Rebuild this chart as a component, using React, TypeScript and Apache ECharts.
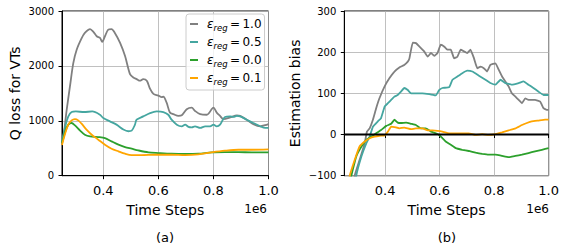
import React, { useEffect, useRef } from "react";
import * as echarts from "echarts";

// x in units of 1e6 time steps
const epsLabels = ["1.0", "0.5", "0.0", "0.1"];
const colors = ["#808080", "#45a6a0", "#2ca02c", "#ffa500"];
const xTicks = [0.4, 0.6, 0.8, 1.0];

// (a) Q loss for VTs
const qLoss10: [number, number][] = [
  [0.25, 620], [0.255, 700], [0.267, 1200], [0.279, 1630], [0.291, 2050], [0.303, 2290], [0.321, 2500],
  [0.333, 2600], [0.352, 2670], [0.364, 2620], [0.376, 2540], [0.388, 2510], [0.396, 2440], [0.406, 2540],
  [0.418, 2660], [0.43, 2670], [0.442, 2600], [0.461, 2420], [0.479, 2180], [0.497, 1850], [0.509, 1790],
  [0.521, 1760], [0.533, 1730], [0.545, 1760], [0.558, 1730], [0.57, 1580], [0.582, 1490], [0.6, 1460],
  [0.612, 1430], [0.618, 1440], [0.63, 1330], [0.642, 1150], [0.655, 1120], [0.673, 1090], [0.685, 1100],
  [0.703, 1210], [0.721, 1240], [0.733, 1180], [0.752, 1120], [0.776, 1110], [0.8, 1240], [0.812, 1150],
  [0.824, 1090], [0.836, 1030], [0.861, 1060], [0.885, 1100], [0.897, 1090], [0.921, 1020], [0.945, 940],
  [0.97, 900], [0.988, 920], [1.0, 940],
];
const qLoss05: [number, number][] = [
  [0.25, 620], [0.262, 900], [0.273, 1080], [0.285, 1160], [0.3, 1170], [0.33, 1160], [0.36, 1170],
  [0.388, 1110], [0.4, 1050], [0.424, 990], [0.448, 930], [0.473, 840], [0.491, 810], [0.503, 820],
  [0.515, 930], [0.521, 1020], [0.545, 1080], [0.57, 1140], [0.594, 1170], [0.618, 1160], [0.636, 1110],
  [0.648, 1020], [0.667, 930], [0.685, 900], [0.697, 930], [0.709, 890], [0.721, 880], [0.733, 900],
  [0.752, 870], [0.77, 900], [0.788, 900], [0.8, 930], [0.812, 900], [0.824, 930], [0.842, 1070],
  [0.861, 1080], [0.873, 1070], [0.885, 1090], [0.897, 1080], [0.921, 1020], [0.945, 960], [0.97, 900],
  [0.988, 870], [1.0, 870],
];
const qLoss00: [number, number][] = [
  [0.25, 590], [0.262, 807], [0.273, 930], [0.285, 960], [0.297, 917], [0.315, 826], [0.333, 747],
  [0.352, 716], [0.382, 704], [0.406, 686], [0.43, 625], [0.455, 565], [0.479, 522], [0.503, 492],
  [0.527, 461], [0.564, 425], [0.6, 413], [0.648, 400], [0.697, 395], [0.745, 400], [0.794, 425],
  [0.842, 430], [0.891, 430], [0.939, 425], [1.0, 425],
];
const qLoss01: [number, number][] = [
  [0.25, 560], [0.262, 777], [0.273, 930], [0.285, 1008], [0.297, 1032], [0.309, 1008], [0.321, 947],
  [0.339, 838], [0.358, 747], [0.382, 656], [0.406, 565], [0.43, 492], [0.455, 443], [0.479, 400],
  [0.503, 376], [0.539, 376], [0.588, 382], [0.648, 382], [0.697, 376], [0.745, 388], [0.794, 425],
  [0.842, 455], [0.891, 473], [0.939, 473], [1.0, 480],
];

// (b) Estimation bias
const bias10: [number, number][] = [
  [0.25, -330], [0.27, -200], [0.288, -100], [0.306, -62], [0.325, -21], [0.333, 7], [0.343, 15],
  [0.355, 36], [0.367, 64], [0.379, 88], [0.398, 117], [0.416, 137], [0.434, 153], [0.452, 163],
  [0.47, 169], [0.483, 177], [0.489, 185], [0.501, 223], [0.513, 222], [0.525, 214], [0.543, 202],
  [0.556, 189], [0.568, 198], [0.58, 191], [0.592, 198], [0.604, 218], [0.616, 214], [0.628, 206],
  [0.641, 206], [0.653, 185], [0.665, 189], [0.677, 206], [0.689, 202], [0.701, 198], [0.713, 206],
  [0.726, 185], [0.738, 161], [0.75, 165], [0.762, 161], [0.774, 153], [0.786, 169], [0.805, 173],
  [0.817, 157], [0.829, 141], [0.841, 129], [0.853, 117], [0.865, 100], [0.878, 92], [0.89, 84],
  [0.902, 76], [0.914, 88], [0.926, 84], [0.95, 84], [0.969, 80], [0.981, 64], [0.993, 60], [1.0, 60],
];
const bias05: [number, number][] = [
  [0.25, -320], [0.275, -190], [0.294, -100], [0.313, -53], [0.331, -21], [0.343, -5], [0.355, 19],
  [0.373, 32], [0.385, 40], [0.398, 68], [0.41, 76], [0.422, 84], [0.434, 92], [0.446, 96], [0.458, 104],
  [0.47, 113], [0.483, 108], [0.495, 100], [0.513, 100], [0.537, 100], [0.562, 98], [0.586, 95],
  [0.598, 108], [0.61, 113], [0.635, 115], [0.647, 133], [0.665, 141], [0.683, 149], [0.701, 155],
  [0.72, 153], [0.744, 143], [0.768, 133], [0.786, 125], [0.805, 121], [0.823, 133], [0.841, 125],
  [0.865, 121], [0.89, 125], [0.908, 129], [0.926, 121], [0.944, 113], [0.963, 104], [0.981, 96], [1.0, 96],
];
const bias00: [number, number][] = [
  [0.25, -300], [0.268, -160], [0.276, -100], [0.294, -53], [0.313, -29], [0.331, -13], [0.349, -5],
  [0.367, 3], [0.385, 11], [0.404, 21], [0.422, 26], [0.434, 36], [0.446, 29], [0.458, 28], [0.477, 29],
  [0.495, 26], [0.513, 23], [0.531, 15], [0.549, 15], [0.568, 7], [0.586, 3], [0.598, -1], [0.61, -9],
  [0.622, -17], [0.641, -25], [0.659, -33], [0.683, -37], [0.707, -40], [0.732, -44], [0.756, -47],
  [0.78, -49], [0.805, -49], [0.829, -52], [0.853, -55], [0.878, -52], [0.902, -49], [0.926, -45],
  [0.95, -41], [0.975, -37], [1.0, -33],
];
const bias01: [number, number][] = [
  [0.25, -280], [0.265, -140], [0.27, -100], [0.288, -62], [0.306, -29], [0.325, -17], [0.343, -9],
  [0.361, -5], [0.379, -3], [0.398, -2], [0.41, 7], [0.422, 19], [0.434, 18], [0.452, 15], [0.47, 17],
  [0.495, 13], [0.513, 15], [0.537, 15], [0.556, 10], [0.574, 10], [0.592, 9], [0.61, 7], [0.635, 3],
  [0.683, 3], [0.707, 3], [0.732, -1], [0.756, 1], [0.78, -1], [0.805, 1], [0.829, 5], [0.853, 10],
  [0.878, 15], [0.902, 23], [0.92, 28], [0.938, 32], [0.963, 34], [0.987, 36], [1.0, 36],
];
const zeroLine: [number, number][] = [[0.25, 0], [1.0, 0]];

const FONT = "DejaVu Sans";

function xAxisCfg(gridIndex: number) {
  return {
    type: "value",
    gridIndex,
    min: 0.25,
    max: 1.0,
    name: "Time Steps",
    nameLocation: "middle",
    nameGap: 27,
    nameTextStyle: { fontSize: 14, color: "#000", fontFamily: FONT },
    axisLine: { show: true, lineStyle: { color: "#000", width: 1 } },
    axisTick: { show: true, length: 3.5, lineStyle: { color: "#000" }, customValues: xTicks },
    axisLabel: {
      fontSize: 13, color: "#000", fontFamily: FONT, margin: 8,
      customValues: xTicks,
      formatter: (v: number) => v.toFixed(1),
    },
    splitLine: { show: true, lineStyle: { color: "#b0b0b0", width: 0.8 } },
  };
}

function yAxisCfg(gridIndex: number, min: number, max: number, interval: number, name: string, gap: number) {
  return {
    type: "value",
    gridIndex,
    min, max, interval,
    name,
    nameLocation: "middle",
    nameRotate: 90,
    nameGap: gap,
    nameTextStyle: { fontSize: 14, color: "#000", fontFamily: FONT },
    axisLine: { show: true, lineStyle: { color: "#000", width: 1 } },
    axisTick: { show: true, length: 3.5, lineStyle: { color: "#000" } },
    axisLabel: {
      fontSize: 10, color: "#000", fontFamily: FONT, margin: 8,
      formatter: (v: number) => String(v).replace("-", "\u2212"),
    },
    splitLine: { show: true, lineStyle: { color: "#b0b0b0", width: 0.8 } },
  };
}

function lineSeries(name: string, data: [number, number][], color: string, idx: number, smooth: number) {
  return {
    type: "line",
    name,
    data,
    xAxisIndex: idx,
    yAxisIndex: idx,
    showSymbol: false,
    smooth,
    clip: true,
    lineStyle: { color, width: 1.8 },
    itemStyle: { color },
    z: 3,
  };
}

export default function App() {
  const ref = useRef<HTMLDivElement>(null);
  useEffect(() => {
    if (!ref.current) return;
    const chart = echarts.init(ref.current, null, { renderer: "svg" });
    const leftData = [qLoss10, qLoss05, qLoss00, qLoss01];
    const rightData = [bias10, bias05, bias00, bias01];
    const series: any[] = [];
    epsLabels.forEach((e, i) => series.push(lineSeries(e, leftData[i], colors[i], 0, 0.3)));
    epsLabels.forEach((e, i) => series.push(lineSeries(e, rightData[i], colors[i], 1, 0.1)));
    series.push({
      type: "line",
      name: "zero",
      data: zeroLine,
      xAxisIndex: 1,
      yAxisIndex: 1,
      showSymbol: false,
      lineStyle: { color: "#000", width: 2 },
      itemStyle: { color: "#000" },
      z: 4,
      silent: true,
    });
    chart.setOption({
      animation: false,
      textStyle: { fontFamily: FONT },
      grid: [
        { left: 62, top: 11, width: 206.5, height: 164.7, show: true, borderColor: "#000", borderWidth: 1, backgroundColor: "transparent" },
        { left: 344.3, top: 11, width: 206, height: 164.7, show: true, borderColor: "#000", borderWidth: 1, backgroundColor: "transparent" },
      ],
      xAxis: [xAxisCfg(0), xAxisCfg(1)],
      yAxis: [
        yAxisCfg(0, 0, 3000, 1000, "Q loss for VTs", 40),
        yAxisCfg(1, -100, 300, 100, "Estimation bias", 42),
      ],
      legend: {
        data: epsLabels,
        orient: "vertical",
        left: 186,
        top: 14,
        padding: [4, 3, 4, 4],
        itemGap: 4,
        itemWidth: 8,
        itemHeight: 2,
        icon: "rect",
        backgroundColor: "rgba(255,255,255,0.8)",
        borderColor: "#cccccc",
        borderWidth: 1,
        borderRadius: 3,
        selectedMode: false,
        formatter: (name: string) => `{e|\u03b5}{s|reg}{n|\u2009=\u2009${name}}`,
        textStyle: {
          color: "#000",
          fontFamily: FONT,
          fontSize: 12,
          rich: {
            e: { fontSize: 12, fontStyle: "italic", lineHeight: 16, fontFamily: FONT, padding: [0, 0, 0, 4] },
            s: { fontSize: 8.5, fontStyle: "italic", lineHeight: 10, verticalAlign: "bottom", fontFamily: FONT },
            n: { fontSize: 12, lineHeight: 16, fontFamily: FONT },
          },
        },
      },
      graphic: [
        { type: "text", x: 267, y: 209, style: { text: "1e6", fill: "#000", font: `12px "${FONT}"`, align: "right", verticalAlign: "middle" } },
        { type: "text", x: 549, y: 209, style: { text: "1e6", fill: "#000", font: `12px "${FONT}"`, align: "right", verticalAlign: "middle" } },
        { type: "text", x: 165, y: 237, style: { text: "(a)", fill: "#000", font: `13px "${FONT}"`, align: "center", verticalAlign: "middle" } },
        { type: "text", x: 447, y: 237, style: { text: "(b)", fill: "#000", font: `13px "${FONT}"`, align: "center", verticalAlign: "middle" } },
      ],
      series,
    });
    return () => chart.dispose();
  }, []);
  return <div ref={ref} style={{ position: "absolute", left: 0, top: 0, width: 562, height: 247 }} />;
}
